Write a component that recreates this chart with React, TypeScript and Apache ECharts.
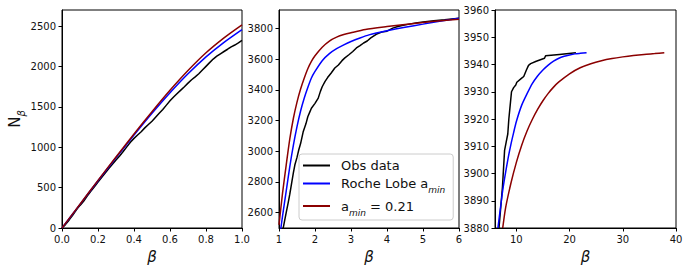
import React, { useEffect, useRef } from "react";
import * as echarts from "echarts";

// ---- Panel 1 (beta 0..1) ----
const obsP1: [number, number][] = [
  [0, 0], [0.02, 45], [0.04, 100], [0.06, 160], [0.08, 225], [0.1, 280], [0.12, 332], [0.14, 395],
  [0.16, 455], [0.18, 510], [0.2, 568], [0.22, 625], [0.24, 680], [0.26, 737], [0.28, 790], [0.3, 842],
  [0.32, 892], [0.34, 947], [0.36, 1005], [0.38, 1062], [0.4, 1110], [0.42, 1152], [0.44, 1192],
  [0.46, 1240], [0.48, 1282], [0.5, 1322], [0.52, 1372], [0.54, 1420], [0.56, 1468], [0.58, 1522],
  [0.6, 1575], [0.62, 1622], [0.64, 1665], [0.66, 1708], [0.68, 1750], [0.7, 1794], [0.72, 1836],
  [0.74, 1872], [0.76, 1910], [0.78, 1956], [0.8, 2002], [0.82, 2048], [0.84, 2092], [0.86, 2128],
  [0.88, 2158], [0.9, 2186], [0.92, 2214], [0.94, 2244], [0.96, 2266], [0.98, 2292], [1.0, 2323],
];
const rocheP1: [number, number][] = [
  [0, 0], [0.1, 293], [0.2, 585], [0.3, 870], [0.4, 1150], [0.5, 1420], [0.6, 1675],
  [0.7, 1910], [0.8, 2120], [0.9, 2300], [1.0, 2458],
];
const amin021P1: [number, number][] = [
  [0, 0], [0.1, 295], [0.2, 590], [0.3, 880], [0.4, 1165], [0.5, 1440], [0.6, 1705],
  [0.7, 1950], [0.8, 2170], [0.9, 2355], [1.0, 2516],
];

// ---- Panel 2 (beta 1..6) ----
const obsP2: [number, number][] = [
  [1.0, 2380], [1.1, 2480], [1.15, 2540], [1.2, 2600], [1.26, 2670], [1.3, 2720], [1.35, 2790],
  [1.4, 2860], [1.44, 2910], [1.5, 2960], [1.55, 3010], [1.6, 3050], [1.67, 3125], [1.75, 3180],
  [1.8, 3225], [1.86, 3258], [1.9, 3280], [2.0, 3312], [2.09, 3346], [2.15, 3390], [2.2, 3420],
  [2.28, 3455], [2.35, 3480], [2.45, 3510], [2.55, 3542], [2.65, 3562], [2.75, 3590], [2.83, 3608],
  [2.95, 3630], [3.05, 3650], [3.15, 3673], [3.25, 3688], [3.35, 3705], [3.45, 3718], [3.55, 3738],
  [3.7, 3762], [3.85, 3776], [4.0, 3782], [4.16, 3802], [4.3, 3812], [4.45, 3820], [4.62, 3828],
  [4.8, 3835], [5.0, 3842], [5.3, 3850], [5.6, 3857], [6.0, 3867],
];
const rocheP2: [number, number][] = [
  [1.0, 2400], [1.05, 2495], [1.1, 2580], [1.2, 2740], [1.3, 2900], [1.4, 3040], [1.5, 3160],
  [1.6, 3262], [1.7, 3345], [1.8, 3415], [1.9, 3477], [2.0, 3520], [2.2, 3590], [2.4, 3636],
  [2.6, 3668], [2.8, 3693], [3.0, 3715], [3.25, 3738], [3.5, 3758], [4.0, 3785], [4.5, 3808],
  [5.0, 3828], [5.5, 3848], [6.0, 3867],
];
const amin021P2: [number, number][] = [
  [1.0, 2520], [1.1, 2730], [1.2, 2910], [1.3, 3080], [1.4, 3215], [1.5, 3320], [1.6, 3405],
  [1.7, 3475], [1.8, 3537], [1.9, 3585], [2.0, 3622], [2.2, 3678], [2.4, 3718], [2.6, 3743],
  [2.8, 3760], [3.0, 3772], [3.4, 3793], [4.0, 3812], [4.5, 3826], [5.0, 3839], [5.5, 3850],
  [6.0, 3860],
];

// ---- Panel 3 (beta 6..40) ----
const obsP3: [number, number][] = [
  [6.75, 3880], [7.1, 3888], [7.4, 3895], [7.8, 3908.5], [8.1, 3911.5], [8.4, 3914.5],
  [8.6, 3920], [8.8, 3924], [9.1, 3930], [9.5, 3931.5], [9.9, 3932.5], [10.1, 3933.5],
  [10.9, 3934.8], [11.4, 3935.6], [11.9, 3938], [12.3, 3939.7], [12.7, 3940.3], [13.75, 3941.2],
  [15.3, 3942.3], [15.5, 3943.2], [18.1, 3943.7], [21.2, 3944.3],
];
const rocheP3: [number, number][] = [
  [6.55, 3880], [7, 3887], [7.5, 3894.5], [8, 3900.5], [8.5, 3906], [9, 3910.8], [9.5, 3915],
  [10, 3919], [11, 3925], [12, 3929.2], [13, 3933], [14, 3935.8], [15, 3938], [16, 3939.8],
  [17, 3941.2], [18, 3942.3], [19, 3943], [20, 3943.5], [21, 3943.9], [22, 3944.1], [23.2, 3944.3],
];
const amin021P3: [number, number][] = [
  [7.45, 3880], [8, 3887.5], [9, 3896.5], [10, 3904], [11, 3910.3], [12, 3915.5], [13, 3919.8],
  [14, 3923.5], [15, 3926.7], [16, 3929.4], [17, 3931.7], [18, 3933.6], [20, 3936.6], [22, 3938.8],
  [24, 3940.3], [26, 3941.4], [28, 3942.2], [30, 3942.8], [32, 3943.3], [34, 3943.7], [36, 3944],
  [37.8, 3944.3],
];

// ---- Ticks ----
const p1YTicks = [0, 500, 1000, 1500, 2000, 2500];
const p2YTicks = [2600, 2800, 3000, 3200, 3400, 3600, 3800];
const p3XTicks = [10, 20, 30, 40];

const seriesNames = ["Obs data", "Roche Lobe a_min", "a_min = 0.21"];
const colors = ["#000000", "#0000ff", "#8b0000"];

const TEXT = "#111";
const FONT = "DejaVu Sans";

export default function App() {
  const ref = useRef<HTMLDivElement>(null);
  useEffect(() => {
    if (!ref.current) return;
    const chart = echarts.init(ref.current, undefined, { renderer: "svg" });
    const grids = [
      { left: 62, top: 10, width: 180, height: 218 },
      { left: 279, top: 10, width: 180, height: 218 },
      { left: 495, top: 10, width: 181, height: 218 },
    ].map((g) => ({ ...g, show: true, borderColor: "#000", borderWidth: 1, backgroundColor: "transparent", containLabel: false }));

    const plain = (v: number) => String(v);
    const axisCommon = {
      axisLine: { show: true, onZero: false, lineStyle: { color: "#000", width: 1 } },
      axisTick: { show: true, inside: false, length: 3.5, lineStyle: { color: "#000" } },
      splitLine: { show: false },
      axisLabel: { color: TEXT, fontSize: 10, fontFamily: FONT, margin: 6, formatter: plain },
    };
    const xName = {
      name: "β",
      nameLocation: "middle" as const,
      nameGap: 21,
      nameTextStyle: { fontSize: 15, fontStyle: "italic", fontFamily: FONT, color: TEXT },
    };

    const xAxes = [
      {
        ...axisCommon, ...xName, type: "value", gridIndex: 0, min: 0, max: 1, interval: 0.2,
        axisLabel: { ...axisCommon.axisLabel, formatter: (v: number) => v.toFixed(1) },
      },
      {
        ...axisCommon, ...xName, type: "value", gridIndex: 1, min: 1, max: 6, interval: 1,
      },
      {
        ...axisCommon, ...xName, type: "value", gridIndex: 2, min: 6, max: 40,
        axisTick: { ...axisCommon.axisTick, customValues: p3XTicks },
        axisLabel: { ...axisCommon.axisLabel, customValues: p3XTicks },
      },
    ];
    const yAxes = [
      {
        ...axisCommon, type: "value", gridIndex: 0, min: 0, max: 2700,
        axisTick: { ...axisCommon.axisTick, customValues: p1YTicks },
        axisLabel: { ...axisCommon.axisLabel, customValues: p1YTicks },
        name: "{n|N}{s|β}",
        nameLocation: "middle",
        nameRotate: 90,
        nameGap: 38,
        nameTextStyle: {
          rich: {
            n: { fontSize: 15, fontFamily: FONT, color: TEXT, lineHeight: 18 },
            s: { fontSize: 10, fontFamily: FONT, fontStyle: "italic", color: TEXT, verticalAlign: "bottom", lineHeight: 10, padding: [0, 0, -3, 0] },
          },
        },
      },
      {
        ...axisCommon, type: "value", gridIndex: 1, min: 2500, max: 3920,
        axisTick: { ...axisCommon.axisTick, customValues: p2YTicks },
        axisLabel: { ...axisCommon.axisLabel, customValues: p2YTicks },
      },
      {
        ...axisCommon, type: "value", gridIndex: 2, min: 3880, max: 3960, interval: 10,
      },
    ];

    const panels = [
      [obsP1, rocheP1, amin021P1],
      [obsP2, rocheP2, amin021P2],
      [obsP3, rocheP3, amin021P3],
    ];
    const series: any[] = [];
    panels.forEach((sets, pi) => {
      sets.forEach((data, si) => {
        series.push({
          type: "line",
          name: seriesNames[si],
          xAxisIndex: pi,
          yAxisIndex: pi,
          data,
          symbol: "none",
          clip: true,
          smooth: si === 0 ? false : 0.25,
          lineStyle: { color: colors[si], width: 1.5 },
          itemStyle: { color: colors[si] },
          z: 2 + si,
        });
      });
    });

    const legendLabels: Record<string, string> = {
      "Obs data": "{t|Obs data}",
      "Roche Lobe a_min": "{t|Roche Lobe a}{s|min}",
      "a_min = 0.21": "{t|a}{s|min}{t| = 0.21}",
    };

    chart.setOption({
      animation: false,
      backgroundColor: "#fff",
      grid: grids,
      xAxis: xAxes,
      yAxis: yAxes,
      series,
      legend: {
        show: true,
        orient: "vertical",
        left: 299,
        top: 154,
        data: seriesNames,
        icon: "rect",
        itemWidth: 27,
        itemHeight: 2,
        itemGap: 5,
        padding: [5, 8, 3, 4],
        backgroundColor: "rgba(255,255,255,0.85)",
        borderColor: "#cccccc",
        borderWidth: 1,
        borderRadius: 3,
        selectedMode: false,
        formatter: (name: string) => legendLabels[name] || name,
        textStyle: {
          color: TEXT,
          fontSize: 13,
          fontFamily: FONT,
          padding: [0, 0, 0, 6],
          rich: {
            t: { fontSize: 13, fontFamily: FONT, color: TEXT, lineHeight: 16 },
            s: { fontSize: 9, fontFamily: FONT, fontStyle: "italic", color: TEXT, verticalAlign: "bottom", lineHeight: 9, padding: [0, 0, -3, 0] },
          },
        },
      },
    });
    return () => chart.dispose();
  }, []);
  return <div ref={ref} style={{ position: "fixed", left: 0, top: 0, width: 689, height: 274 }} />;
}
